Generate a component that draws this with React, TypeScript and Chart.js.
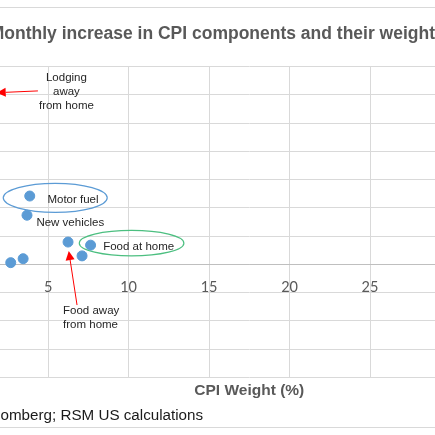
import React, { useEffect, useRef } from "react";
import { Chart, registerables } from "chart.js";

Chart.register(...registerables);

// ---- data ----
const components = [
  "Lodging away from home",
  "Motor fuel",
  "New vehicles",
  "Food away from home",
  "Food at home",
  "Other component 1",
  "Other component 2",
  "Other component 3",
];
const cpiWeights = [1.2, 3.86, 3.69, 6.24, 7.64, 7.11, 3.45, 2.68];
const monthlyIncrease = [6.1, 2.42, 1.74, 0.79, 0.68, 0.3, 0.2, 0.06];
const xTicks = [0, 5, 10, 15, 20, 25, 30, 35];
const titleText = "Monthly increase in CPI components and their weights";
const xAxisTitle = "CPI Weight (%)";
const sourceText = "Source: Bloomberg; RSM US calculations";

// ---- annotation styling (offsets relative to the data point's pixel) ----
type Note = {
  name: string;
  lines: string[];
  align: CanvasTextAlign;
  dx: number;
  dy: number[];
  ellipse?: { dx: number; dy: number; rx: number; ry: number; color: string };
  arrow?: { tx: number; ty: number; hx: number; hy: number };
};
const notes: Note[] = [
  {
    name: "Lodging away from home",
    lines: ["Lodging", "away", "from home"],
    align: "center",
    dx: 79.5,
    dy: [-13.8, -0.4, 13.4],
    arrow: { tx: 51, ty: -1.2, hx: 9.8, hy: 0.6 },
  },
  {
    name: "Motor fuel",
    lines: ["Motor fuel"],
    align: "left",
    dx: 17.7,
    dy: [4],
    ellipse: { dx: 25.5, dy: 1.8, rx: 52, ry: 14.5, color: "#5B9BD5" },
  },
  { name: "New vehicles", lines: ["New vehicles"], align: "left", dx: 9.4, dy: [8] },
  {
    name: "Food at home",
    lines: ["Food at home"],
    align: "left",
    dx: 12.6,
    dy: [2],
    ellipse: { dx: 41, dy: -2, rx: 52.3, ry: 12.7, color: "#4CBF80" },
  },
  {
    name: "Food away from home",
    lines: ["Food away", "from home"],
    align: "left",
    dx: -5,
    dy: [69, 82.3],
    arrow: { tx: 9, ty: 63, hx: 0.7, hy: 9 },
  },
];

const annotationPlugin = {
  id: "cpiAnnotations",
  afterDraw(chart: any) {
    const ctx: CanvasRenderingContext2D = chart.ctx;
    const xs = chart.scales.x;
    const ys = chart.scales.y;
    const area = chart.chartArea;
    ctx.save();
    // chart title
    ctx.fillStyle = "#595959";
    ctx.font = "bold 17.5px 'Liberation Sans', Arial, sans-serif";
    ctx.textAlign = "left";
    ctx.textBaseline = "alphabetic";
    ctx.fillText(titleText, 78.7, 31.3);
    // x-axis title
    ctx.font = "bold 15.5px 'Liberation Sans', Arial, sans-serif";
    ctx.textAlign = "center";
    ctx.fillText(xAxisTitle, (area.left + area.right) / 2, 387);
    // source line
    ctx.fillStyle = "#1a1a1a";
    ctx.font = "15.2px 'Liberation Sans', Arial, sans-serif";
    ctx.textAlign = "left";
    ctx.fillText(sourceText, 11, 412.3);

    // point annotations
    ctx.font = "11.5px 'Liberation Sans', Arial, sans-serif";
    notes.forEach((n) => {
      const i = components.indexOf(n.name);
      const px = xs.getPixelForValue(cpiWeights[i]);
      const py = ys.getPixelForValue(monthlyIncrease[i]);
      if (n.ellipse) {
        ctx.beginPath();
        ctx.strokeStyle = n.ellipse.color;
        ctx.lineWidth = 1.2;
        ctx.ellipse(px + n.ellipse.dx, py + n.ellipse.dy, n.ellipse.rx, n.ellipse.ry, 0, 0, Math.PI * 2);
        ctx.stroke();
      }
      if (n.arrow) {
        const tx = px + n.arrow.tx, ty = py + n.arrow.ty;
        const hx = px + n.arrow.hx, hy = py + n.arrow.hy;
        const ang = Math.atan2(hy - ty, hx - tx);
        const len = 9, half = 4.5;
        const bx = hx - Math.cos(ang) * len, by = hy - Math.sin(ang) * len;
        ctx.strokeStyle = "#FF0000";
        ctx.lineWidth = 1;
        ctx.beginPath();
        ctx.moveTo(tx, ty);
        ctx.lineTo(bx, by);
        ctx.stroke();
        ctx.fillStyle = "#FF0000";
        ctx.beginPath();
        ctx.moveTo(hx, hy);
        ctx.lineTo(bx + Math.sin(ang) * half, by - Math.cos(ang) * half);
        ctx.lineTo(bx - Math.sin(ang) * half, by + Math.cos(ang) * half);
        ctx.closePath();
        ctx.fill();
      }
      ctx.fillStyle = "#262626";
      ctx.textAlign = n.align;
      ctx.textBaseline = "middle";
      n.lines.forEach((line, k) => {
        ctx.fillText(line, px + n.dx, py + n.dy[k]);
      });
    });
    ctx.restore();
  },
};

export default function App() {
  const canvasRef = useRef<HTMLCanvasElement | null>(null);

  useEffect(() => {
    if (!canvasRef.current) return;
    const chart = new Chart(canvasRef.current, {
      type: "scatter",
      data: {
        datasets: [
          {
            label: "CPI components",
            data: components.map((c, i) => ({ x: cpiWeights[i], y: monthlyIncrease[i] })),
            backgroundColor: "#5B9BD5",
            borderColor: "#5B9BD5",
            borderWidth: 1,
            pointRadius: 5,
            pointHoverRadius: 5,
          },
        ],
      },
      options: {
        animation: false,
        responsive: false,
        devicePixelRatio: 1,
        layout: { padding: { left: 0, top: 58.7, right: 60, bottom: 49.7 } },
        plugins: {
          legend: { display: false },
          title: { display: false },
          tooltip: { enabled: false },
        },
        scales: {
          x: {
            type: "linear",
            position: { y: 0 } as any,
            min: 0,
            max: 35,
            afterBuildTicks: (scale: any) => {
              scale.ticks = xTicks.map((v) => ({ value: v }));
            },
            ticks: {
              autoSkip: false,
              maxRotation: 0,
              padding: 14,
              color: "#595959",
              font: { family: "Lato, 'Open Sans', sans-serif", size: 14.5 },
              callback: (v: any) => (v === 0 || v === 35 ? "" : String(v)),
            },
            grid: { color: "#D9D9D9", lineWidth: 1, drawTicks: false },
            border: { display: true, color: "#BFBFBF", width: 1 },
          },
          y: {
            type: "linear",
            position: "left",
            min: -4,
            max: 7,
            ticks: { stepSize: 1, display: false },
            grid: {
              drawTicks: false,
              lineWidth: 1,
              color: (c: any) => (c.tick && c.tick.value === 0 ? "#BFBFBF" : "#D9D9D9"),
            },
            border: { display: false },
            afterFit: (scale: any) => {
              scale.width = 56.6;
            },
          },
        },
      },
      plugins: [annotationPlugin],
    });
    return () => chart.destroy();
  }, []);

  return (
    <div
      style={{
        position: "fixed",
        left: -90,
        top: 7,
        width: 680,
        height: 419,
        border: "1px solid #D9D9D9",
        background: "#ffffff",
      }}
    >
      <canvas ref={canvasRef} width={680} height={419} style={{ display: "block", width: 680, height: 419 }} />
    </div>
  );
}
